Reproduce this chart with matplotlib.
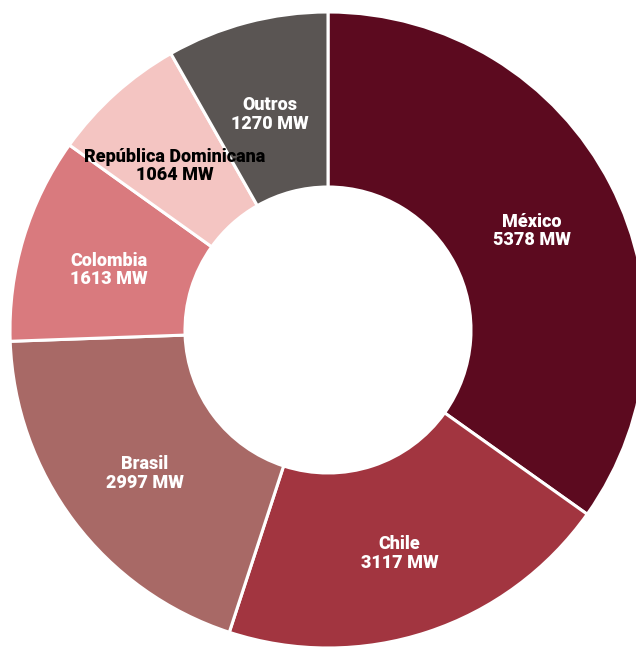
import matplotlib
matplotlib.use("Agg")
import matplotlib.pyplot as plt

countries = ["México", "Chile", "Brasil", "Colombia", "República Dominicana", "Outros"]
capacity_mw = [5378, 3117, 2997, 1613, 1064, 1270]
colors = ["#5c0a1f", "#a23540", "#a86966", "#d97a7e", "#f4c5c2", "#5a5553"]
text_colors = ["white", "white", "white", "white", "black", "white"]

W, H = 636, 647
fig = plt.figure(figsize=(W / 100, H / 100), dpi=100)
ax = fig.add_axes([0, 0, 1, 1])

labels = [f"{c}\n{v} MW" for c, v in zip(countries, capacity_mw)]
R = 318
wedges, texts = ax.pie(
    capacity_mw,
    labels=labels,
    colors=colors,
    startangle=90,
    counterclock=False,
    radius=R,
    center=(328, H - 330),
    labeldistance=0.72,
    wedgeprops=dict(width=175, edgecolor="white", linewidth=2.2),
    textprops=dict(fontsize=13, fontweight=900, family="Roboto",
                   ha="center", va="center", linespacing=1.05),
    frame=True,
)
for t, c in zip(texts, text_colors):
    t.set_color(c)
    t.set_horizontalalignment("center")
    t.set_verticalalignment("center")
    x, y = t.get_position()
    t.set_position((x, y - 6))

ax.set_xlim(0, W)
ax.set_ylim(0, H)
ax.set_aspect("equal")
ax.axis("off")
fig.savefig("out.png", dpi=100)
